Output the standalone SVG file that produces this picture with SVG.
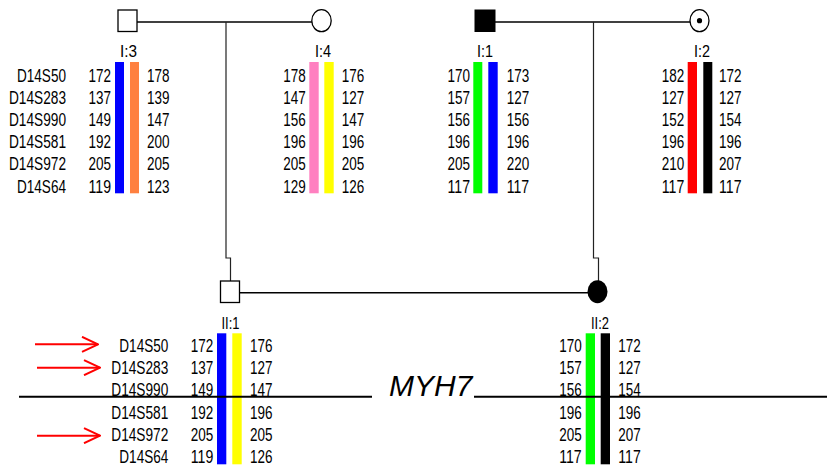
<svg xmlns="http://www.w3.org/2000/svg" width="832" height="467" viewBox="0 0 832 467">
<style>
text{font-family:"Liberation Sans",Arial,sans-serif;fill:#000}
.t{font-size:18px}
.e{text-anchor:end}
.lab{font-size:17px;text-anchor:middle}
.ln{stroke:#000;stroke-width:1.5;fill:none}
.ds{stroke:#222;stroke-width:1.2;fill:none}
.sh{stroke:#000;stroke-width:1.3;fill:#fff}
.arr{stroke:#f00;stroke-width:2;fill:none}
</style>
<defs>
<marker id="ah" markerUnits="userSpaceOnUse" viewBox="0 0 18 17" refX="17" refY="8.5" markerWidth="18" markerHeight="17" orient="auto">
<path d="M1,1 L17,8.5 L1,16" stroke="#f00" stroke-width="2" fill="none"/>
</marker>
</defs>
<rect width="832" height="467" fill="#fff"/>

<g id="connectors">
<line class="ln" x1="137" y1="22" x2="312" y2="22"/>
<line class="ln" x1="495" y1="22" x2="690" y2="22"/>
<polyline class="ds" points="226,22 226,258 230.5,258 230.5,281"/>
<polyline class="ds" points="593.5,22 593.5,258 598.5,258 598.5,281"/>
<line class="ln" x1="239" y1="292.7" x2="589" y2="292.7"/>
</g>

<g id="I3">
<rect class="sh" x="118" y="10" width="19" height="21.5"/>
<text class="lab" x="128.5" y="56.5" textLength="17" lengthAdjust="spacingAndGlyphs">I:3</text>
<rect x="115" y="62" width="9" height="131.3" fill="#0000ff"/>
<rect x="130" y="62" width="9" height="131.3" fill="#ff8040"/>
<g class="t e">
<text x="66" y="81.5" textLength="49" lengthAdjust="spacingAndGlyphs">D14S50</text>
<text x="66" y="103.7" textLength="57" lengthAdjust="spacingAndGlyphs">D14S283</text>
<text x="66" y="125.9" textLength="57" lengthAdjust="spacingAndGlyphs">D14S990</text>
<text x="66" y="148.1" textLength="57" lengthAdjust="spacingAndGlyphs">D14S581</text>
<text x="66" y="170.3" textLength="57" lengthAdjust="spacingAndGlyphs">D14S972</text>
<text x="66" y="192.5" textLength="49" lengthAdjust="spacingAndGlyphs">D14S64</text>
<text x="111" y="81.5" textLength="22.5" lengthAdjust="spacingAndGlyphs">172</text>
<text x="111" y="103.7" textLength="22.5" lengthAdjust="spacingAndGlyphs">137</text>
<text x="111" y="125.9" textLength="22.5" lengthAdjust="spacingAndGlyphs">149</text>
<text x="111" y="148.1" textLength="22.5" lengthAdjust="spacingAndGlyphs">192</text>
<text x="111" y="170.3" textLength="22.5" lengthAdjust="spacingAndGlyphs">205</text>
<text x="111" y="192.5" textLength="22.5" lengthAdjust="spacingAndGlyphs">119</text>
</g>
<g class="t">
<text x="147" y="81.5" textLength="22.5" lengthAdjust="spacingAndGlyphs">178</text>
<text x="147" y="103.7" textLength="22.5" lengthAdjust="spacingAndGlyphs">139</text>
<text x="147" y="125.9" textLength="22.5" lengthAdjust="spacingAndGlyphs">147</text>
<text x="147" y="148.1" textLength="22.5" lengthAdjust="spacingAndGlyphs">200</text>
<text x="147" y="170.3" textLength="22.5" lengthAdjust="spacingAndGlyphs">205</text>
<text x="147" y="192.5" textLength="22.5" lengthAdjust="spacingAndGlyphs">123</text>
</g>
</g>

<g id="I4">
<ellipse class="sh" cx="321.5" cy="20.7" rx="9.7" ry="11"/>
<text class="lab" x="323" y="56.5" textLength="16" lengthAdjust="spacingAndGlyphs">I:4</text>
<rect x="309.3" y="62" width="9.4" height="131.3" fill="#ff80c0"/>
<rect x="324.3" y="62" width="9.4" height="131.3" fill="#ffff00"/>
<g class="t e">
<text x="305.7" y="81.5" textLength="22.5" lengthAdjust="spacingAndGlyphs">178</text>
<text x="305.7" y="103.7" textLength="22.5" lengthAdjust="spacingAndGlyphs">147</text>
<text x="305.7" y="125.9" textLength="22.5" lengthAdjust="spacingAndGlyphs">156</text>
<text x="305.7" y="148.1" textLength="22.5" lengthAdjust="spacingAndGlyphs">196</text>
<text x="305.7" y="170.3" textLength="22.5" lengthAdjust="spacingAndGlyphs">205</text>
<text x="305.7" y="192.5" textLength="22.5" lengthAdjust="spacingAndGlyphs">129</text>
</g>
<g class="t">
<text x="341.7" y="81.5" textLength="22.5" lengthAdjust="spacingAndGlyphs">176</text>
<text x="341.7" y="103.7" textLength="22.5" lengthAdjust="spacingAndGlyphs">127</text>
<text x="341.7" y="125.9" textLength="22.5" lengthAdjust="spacingAndGlyphs">147</text>
<text x="341.7" y="148.1" textLength="22.5" lengthAdjust="spacingAndGlyphs">196</text>
<text x="341.7" y="170.3" textLength="22.5" lengthAdjust="spacingAndGlyphs">205</text>
<text x="341.7" y="192.5" textLength="22.5" lengthAdjust="spacingAndGlyphs">126</text>
</g>
</g>

<g id="I1">
<rect x="475" y="10" width="20" height="21.5" fill="#000" stroke="#000" stroke-width="1"/>
<text class="lab" x="485" y="56.5" textLength="16" lengthAdjust="spacingAndGlyphs">I:1</text>
<rect x="473.3" y="62" width="9" height="131.3" fill="#00ff00"/>
<rect x="488.3" y="62" width="9.4" height="131.3" fill="#0000ff"/>
<g class="t e">
<text x="470" y="81.5" textLength="22.5" lengthAdjust="spacingAndGlyphs">170</text>
<text x="470" y="103.7" textLength="22.5" lengthAdjust="spacingAndGlyphs">157</text>
<text x="470" y="125.9" textLength="22.5" lengthAdjust="spacingAndGlyphs">156</text>
<text x="470" y="148.1" textLength="22.5" lengthAdjust="spacingAndGlyphs">196</text>
<text x="470" y="170.3" textLength="22.5" lengthAdjust="spacingAndGlyphs">205</text>
<text x="470" y="192.5" textLength="22.5" lengthAdjust="spacingAndGlyphs">117</text>
</g>
<g class="t">
<text x="506.7" y="81.5" textLength="22.5" lengthAdjust="spacingAndGlyphs">173</text>
<text x="506.7" y="103.7" textLength="22.5" lengthAdjust="spacingAndGlyphs">127</text>
<text x="506.7" y="125.9" textLength="22.5" lengthAdjust="spacingAndGlyphs">156</text>
<text x="506.7" y="148.1" textLength="22.5" lengthAdjust="spacingAndGlyphs">196</text>
<text x="506.7" y="170.3" textLength="22.5" lengthAdjust="spacingAndGlyphs">220</text>
<text x="506.7" y="192.5" textLength="22.5" lengthAdjust="spacingAndGlyphs">117</text>
</g>
</g>

<g id="I2">
<ellipse class="sh" cx="699.5" cy="20.7" rx="9.5" ry="11"/>
<circle cx="699.5" cy="20.7" r="2.6" fill="#000"/>
<text class="lab" x="702" y="56.5" textLength="16" lengthAdjust="spacingAndGlyphs">I:2</text>
<rect x="687.7" y="62" width="9.3" height="131.3" fill="#ff0000"/>
<rect x="703.3" y="62" width="9" height="131.3" fill="#000"/>
<g class="t e">
<text x="684.3" y="81.5" textLength="22.5" lengthAdjust="spacingAndGlyphs">182</text>
<text x="684.3" y="103.7" textLength="22.5" lengthAdjust="spacingAndGlyphs">127</text>
<text x="684.3" y="125.9" textLength="22.5" lengthAdjust="spacingAndGlyphs">152</text>
<text x="684.3" y="148.1" textLength="22.5" lengthAdjust="spacingAndGlyphs">196</text>
<text x="684.3" y="170.3" textLength="22.5" lengthAdjust="spacingAndGlyphs">210</text>
<text x="684.3" y="192.5" textLength="22.5" lengthAdjust="spacingAndGlyphs">117</text>
</g>
<g class="t">
<text x="719" y="81.5" textLength="22.5" lengthAdjust="spacingAndGlyphs">172</text>
<text x="719" y="103.7" textLength="22.5" lengthAdjust="spacingAndGlyphs">127</text>
<text x="719" y="125.9" textLength="22.5" lengthAdjust="spacingAndGlyphs">154</text>
<text x="719" y="148.1" textLength="22.5" lengthAdjust="spacingAndGlyphs">196</text>
<text x="719" y="170.3" textLength="22.5" lengthAdjust="spacingAndGlyphs">207</text>
<text x="719" y="192.5" textLength="22.5" lengthAdjust="spacingAndGlyphs">117</text>
</g>
</g>

<g id="II1">
<rect class="sh" x="220.5" y="281" width="19" height="21.5"/>
<text class="lab" x="230.5" y="328.5" textLength="18" lengthAdjust="spacingAndGlyphs">II:1</text>
<rect x="217" y="333.3" width="9.3" height="131" fill="#0000ff"/>
<rect x="232.3" y="333.3" width="9.4" height="131" fill="#ffff00"/>
<g class="t e">
<text x="168.3" y="351.7" textLength="49" lengthAdjust="spacingAndGlyphs">D14S50</text>
<text x="168.3" y="374" textLength="57" lengthAdjust="spacingAndGlyphs">D14S283</text>
<text x="168.3" y="396.3" textLength="57" lengthAdjust="spacingAndGlyphs">D14S990</text>
<text x="168.3" y="418.6" textLength="57" lengthAdjust="spacingAndGlyphs">D14S581</text>
<text x="168.3" y="440.9" textLength="57" lengthAdjust="spacingAndGlyphs">D14S972</text>
<text x="168.3" y="463.2" textLength="49" lengthAdjust="spacingAndGlyphs">D14S64</text>
<text x="213.3" y="351.7" textLength="22.5" lengthAdjust="spacingAndGlyphs">172</text>
<text x="213.3" y="374" textLength="22.5" lengthAdjust="spacingAndGlyphs">137</text>
<text x="213.3" y="396.3" textLength="22.5" lengthAdjust="spacingAndGlyphs">149</text>
<text x="213.3" y="418.6" textLength="22.5" lengthAdjust="spacingAndGlyphs">192</text>
<text x="213.3" y="440.9" textLength="22.5" lengthAdjust="spacingAndGlyphs">205</text>
<text x="213.3" y="463.2" textLength="22.5" lengthAdjust="spacingAndGlyphs">119</text>
</g>
<g class="t">
<text x="250" y="351.7" textLength="22.5" lengthAdjust="spacingAndGlyphs">176</text>
<text x="250" y="374" textLength="22.5" lengthAdjust="spacingAndGlyphs">127</text>
<text x="250" y="396.3" textLength="22.5" lengthAdjust="spacingAndGlyphs">147</text>
<text x="250" y="418.6" textLength="22.5" lengthAdjust="spacingAndGlyphs">196</text>
<text x="250" y="440.9" textLength="22.5" lengthAdjust="spacingAndGlyphs">205</text>
<text x="250" y="463.2" textLength="22.5" lengthAdjust="spacingAndGlyphs">126</text>
</g>
</g>

<g id="II2">
<ellipse cx="597.5" cy="291.7" rx="10" ry="11.5" fill="#000"/>
<text class="lab" x="600" y="329" textLength="18" lengthAdjust="spacingAndGlyphs">II:2</text>
<rect x="585.7" y="333.3" width="9.3" height="131" fill="#00ff00"/>
<rect x="600.7" y="333.3" width="9.3" height="131" fill="#000"/>
<g class="t e">
<text x="581.7" y="351.7" textLength="22.5" lengthAdjust="spacingAndGlyphs">170</text>
<text x="581.7" y="374" textLength="22.5" lengthAdjust="spacingAndGlyphs">157</text>
<text x="581.7" y="396.3" textLength="22.5" lengthAdjust="spacingAndGlyphs">156</text>
<text x="581.7" y="418.6" textLength="22.5" lengthAdjust="spacingAndGlyphs">196</text>
<text x="581.7" y="440.9" textLength="22.5" lengthAdjust="spacingAndGlyphs">205</text>
<text x="581.7" y="463.2" textLength="22.5" lengthAdjust="spacingAndGlyphs">117</text>
</g>
<g class="t">
<text x="618.3" y="351.7" textLength="22.5" lengthAdjust="spacingAndGlyphs">172</text>
<text x="618.3" y="374" textLength="22.5" lengthAdjust="spacingAndGlyphs">127</text>
<text x="618.3" y="396.3" textLength="22.5" lengthAdjust="spacingAndGlyphs">154</text>
<text x="618.3" y="418.6" textLength="22.5" lengthAdjust="spacingAndGlyphs">196</text>
<text x="618.3" y="440.9" textLength="22.5" lengthAdjust="spacingAndGlyphs">207</text>
<text x="618.3" y="463.2" textLength="22.5" lengthAdjust="spacingAndGlyphs">117</text>
</g>
</g>

<g id="myh7">
<line x1="19" y1="396.7" x2="372" y2="396.7" stroke="#000" stroke-width="2"/>
<line x1="474" y1="396.7" x2="827" y2="396.7" stroke="#000" stroke-width="2"/>
<text x="389" y="396" font-size="30" font-style="italic">MYH7</text>
</g>

<g id="arrows">
<line class="arr" x1="35" y1="344.3" x2="98" y2="344.3" marker-end="url(#ah)"/>
<line class="arr" x1="37" y1="367.7" x2="100" y2="367.7" marker-end="url(#ah)"/>
<line class="arr" x1="37" y1="435.7" x2="100" y2="435.7" marker-end="url(#ah)"/>
</g>
</svg>
